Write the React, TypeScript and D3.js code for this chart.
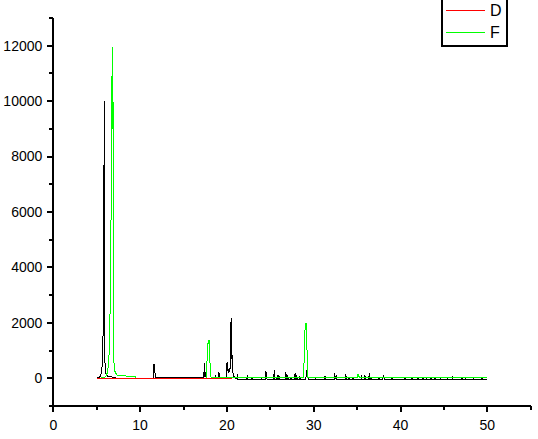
import React from "react";
import * as d3 from "d3";

const W = 538;
const H = 439;

const xMajorTicks = [0, 10, 20, 30, 40, 50];
const xMinorTicks = [5, 15, 25, 35, 45, 55];
const yMajorTicks = [0, 2000, 4000, 6000, 8000, 10000, 12000];
const yMinorTicks = [-1000, 1000, 3000, 5000, 7000, 9000, 11000, 13000];

const legendNames = ["D", "F"];
const legendColors = ["#ff0000", "#00ff00"];

// unlabeled black reference pattern
const blackX = [
  5.0, 5.3, 5.45, 5.55, 5.65, 5.7, 5.75, 5.8, 5.86, 5.9, 5.95, 6.0, 6.1, 6.3, 7.0, 7.2,
  11.55, 11.6, 11.68, 11.74,
  17.2, 17.3, 17.36, 17.4, 17.44, 17.5, 17.55, 17.6,
  18.65, 18.7, 18.76, 19.0, 19.08, 19.15,
  19.95, 20.02, 20.08, 20.14, 20.2, 20.26, 20.32, 20.38, 20.44, 20.49, 20.55, 20.6, 20.66, 20.72, 20.9,
  21.15, 21.2, 21.26, 22.3, 22.35, 22.42, 22.85, 22.9, 22.95, 23.95, 24.0, 24.05,
  24.42, 24.48, 24.56, 24.62, 25.4, 25.45, 25.52, 25.75, 25.8, 25.85, 25.95, 26.0, 26.05,
  26.7, 26.75, 26.82, 26.88, 26.95, 27.0, 27.05, 27.35, 27.4, 27.45, 27.8, 27.85, 27.92,
  28.0, 28.05, 28.1, 28.35, 28.4, 28.45, 29.1, 29.18, 29.3, 29.4,
  30.15, 30.2, 30.25, 31.25, 31.3, 31.35, 32.35, 32.4, 32.5, 32.6, 32.65,
  33.65, 33.7, 33.75, 34.05, 34.1, 34.15, 34.45, 34.5, 34.55,
  35.45, 35.5, 35.55, 35.85, 35.9, 35.95, 36.35, 36.4, 36.46, 36.55, 36.6, 36.65,
  37.45, 37.5, 37.55, 37.95, 38.0, 38.1, 38.15, 38.95, 39.0, 39.05,
  40.45, 40.5, 40.55, 41.25, 41.3, 41.35, 41.95, 42.0, 42.05, 42.55, 42.6, 42.65,
  42.95, 43.0, 43.05, 43.45, 43.5, 43.55, 43.95, 44.0, 44.05, 44.55, 44.6, 44.65,
  45.35, 45.4, 45.45, 45.95, 46.0, 46.05, 47.05, 47.1, 47.15, 47.45, 47.5, 47.55,
  48.35, 48.4, 48.45, 49.35, 49.4, 49.45, 50.0,
];
const blackY = [
  10, 40, 90, 200, 520, 480, 2330, 1600, 10000, 7045, 600, 250, 120, 60, 40, 5,
  10, 490, 490, 15,
  10, 40, 230, 30, 540, 60, 210, 10,
  10, 100, 10, 20, 210, 20,
  30, 600, 250, 340, 200, 360, 240, 380, 2020, 700, 2160, 450, 450, 100, 30,
  -30, 150, -30, -30, 125, -30, -30, 60, -30, -30, 60, -30,
  -30, 270, 150, -30, -30, 300, -30, -30, 100, -30, -30, 100, -30,
  -30, 235, 150, -30, -30, 120, -30, -30, 50, -30, -30, 175, -30,
  -30, 100, -30, -30, 80, -30, -30, 300, 100, -30,
  -30, 60, -30, -30, 80, -30, -30, 190, -30, 130, -30,
  -30, 150, -30, -30, 60, -30, -30, 50, -30,
  -30, 120, -30, -30, 120, -30, -30, 190, -30, -30, 60, -30,
  -30, 40, -30, -30, 100, 50, -30, -30, 30, -30,
  -30, 30, -30, -30, 40, -30, -30, 60, -30, -30, 40, -30,
  -30, 50, -30, -30, 40, -30, -30, 60, -30, -30, 40, -30,
  -30, 50, -30, -30, 30, -30, -30, 60, -30, -30, 40, -30,
  -30, 40, -30, -30, 30, -30, -30,
];

// series F (green)
const greenX = [
  5.0, 5.9, 6.1, 6.22, 6.38, 6.45, 6.6, 6.72, 6.79, 6.84, 6.9, 6.93, 7.0, 7.1, 7.3, 7.5, 8.5, 9.4, 9.5,
  17.6, 17.68, 17.75, 17.82, 17.9, 17.96, 18.02, 18.1, 18.18, 18.3,
  28.85, 28.9, 29.0, 29.08, 29.15, 29.22, 29.3,
  35.0, 35.06, 35.18, 35.24, 40.7, 40.8, 40.9, 50.0,
];
const greenY = [
  0, 20, 90, 200, 500, 1100, 3230, 9130, 11960, 9000, 9970, 1100, 500, 250, 130, 100, 80, 80, 0,
  10, 400, 900, 1250, 1356, 1356, 800, 200, 20, 20,
  20, 780, 1750, 1980, 1980, 1140, 20,
  20, 150, 150, 20, 20, 40, 20, 20,
];

// series D (red)
const redX = [5.0, 20.55];
const redY = [0, 0];

export default function App() {
  const x = d3.scaleLinear().domain([0, 55]).range([53.3, 530.7]);
  const y = d3.scaleLinear().domain([-1000, 13000]).range([406, 18]);

  const mk = (xs: number[], ys: number[]) =>
    d3
      .line<number>()
      .x((_, i) => x(xs[i]))
      .y((_, i) => y(ys[i]))(xs) as string;

  const font = "'Liberation Sans', Arial, sans-serif";

  return (
    <svg
      width={W}
      height={H}
      style={{ position: "absolute", left: 0, top: 0, background: "#fff" }}
    >
      <rect x={0} y={0} width={W} height={H} fill="#fff" />
      <g shapeRendering="crispEdges" fill="none" strokeWidth={1}>
        <path d={mk(blackX, blackY)} stroke="#000" />
        <path d={mk(greenX, greenY)} stroke="#00ff00" />
        <path d={mk(redX, redY)} stroke="#ff0000" />
      </g>

      {/* axes */}
      <g stroke="#000" strokeWidth={2} shapeRendering="crispEdges">
        <line x1={x(0)} x2={x(0)} y1={y(13000)} y2={y(-1000)} />
        <line x1={x(0) - 1} x2={x(55)} y1={y(-1000)} y2={y(-1000)} />
        {yMajorTicks.map((t) => (
          <line key={"ym" + t} x1={x(0) - 6} x2={x(0)} y1={y(t)} y2={y(t)} />
        ))}
        {yMinorTicks.map((t) => (
          <line key={"yn" + t} x1={x(0) - 4} x2={x(0)} y1={y(t)} y2={y(t)} />
        ))}
        {xMajorTicks.map((t) => (
          <line key={"xm" + t} x1={x(t)} x2={x(t)} y1={y(-1000)} y2={y(-1000) + 6} />
        ))}
        {xMinorTicks.map((t) => (
          <line key={"xn" + t} x1={x(t)} x2={x(t)} y1={y(-1000)} y2={y(-1000) + 4} />
        ))}
      </g>
      <g fontFamily={font} fontSize={14} fill="#000">
        {yMajorTicks.map((t) => (
          <text key={"yl" + t} x={x(0) - 11} y={y(t)} dy="0.35em" textAnchor="end">
            {t}
          </text>
        ))}
        {xMajorTicks.map((t) => (
          <text key={"xl" + t} x={x(t)} y={y(-1000) + 24} textAnchor="middle">
            {t}
          </text>
        ))}
      </g>

      {/* legend */}
      <rect
        x={442}
        y={-2}
        width={65}
        height={48}
        fill="none"
        stroke="#000"
        strokeWidth={1.5}
        shapeRendering="crispEdges"
      />
      {legendNames.map((n, i) => (
        <g key={n}>
          <line
            x1={446}
            x2={485}
            y1={10.5 + i * 22}
            y2={10.5 + i * 22}
            stroke={legendColors[i]}
            strokeWidth={1}
            shapeRendering="crispEdges"
          />
          <text
            x={490}
            y={10.5 + i * 22}
            dy="0.36em"
            fontFamily={font}
            fontSize={16}
            fill="#000"
          >
            {n}
          </text>
        </g>
      ))}
    </svg>
  );
}
